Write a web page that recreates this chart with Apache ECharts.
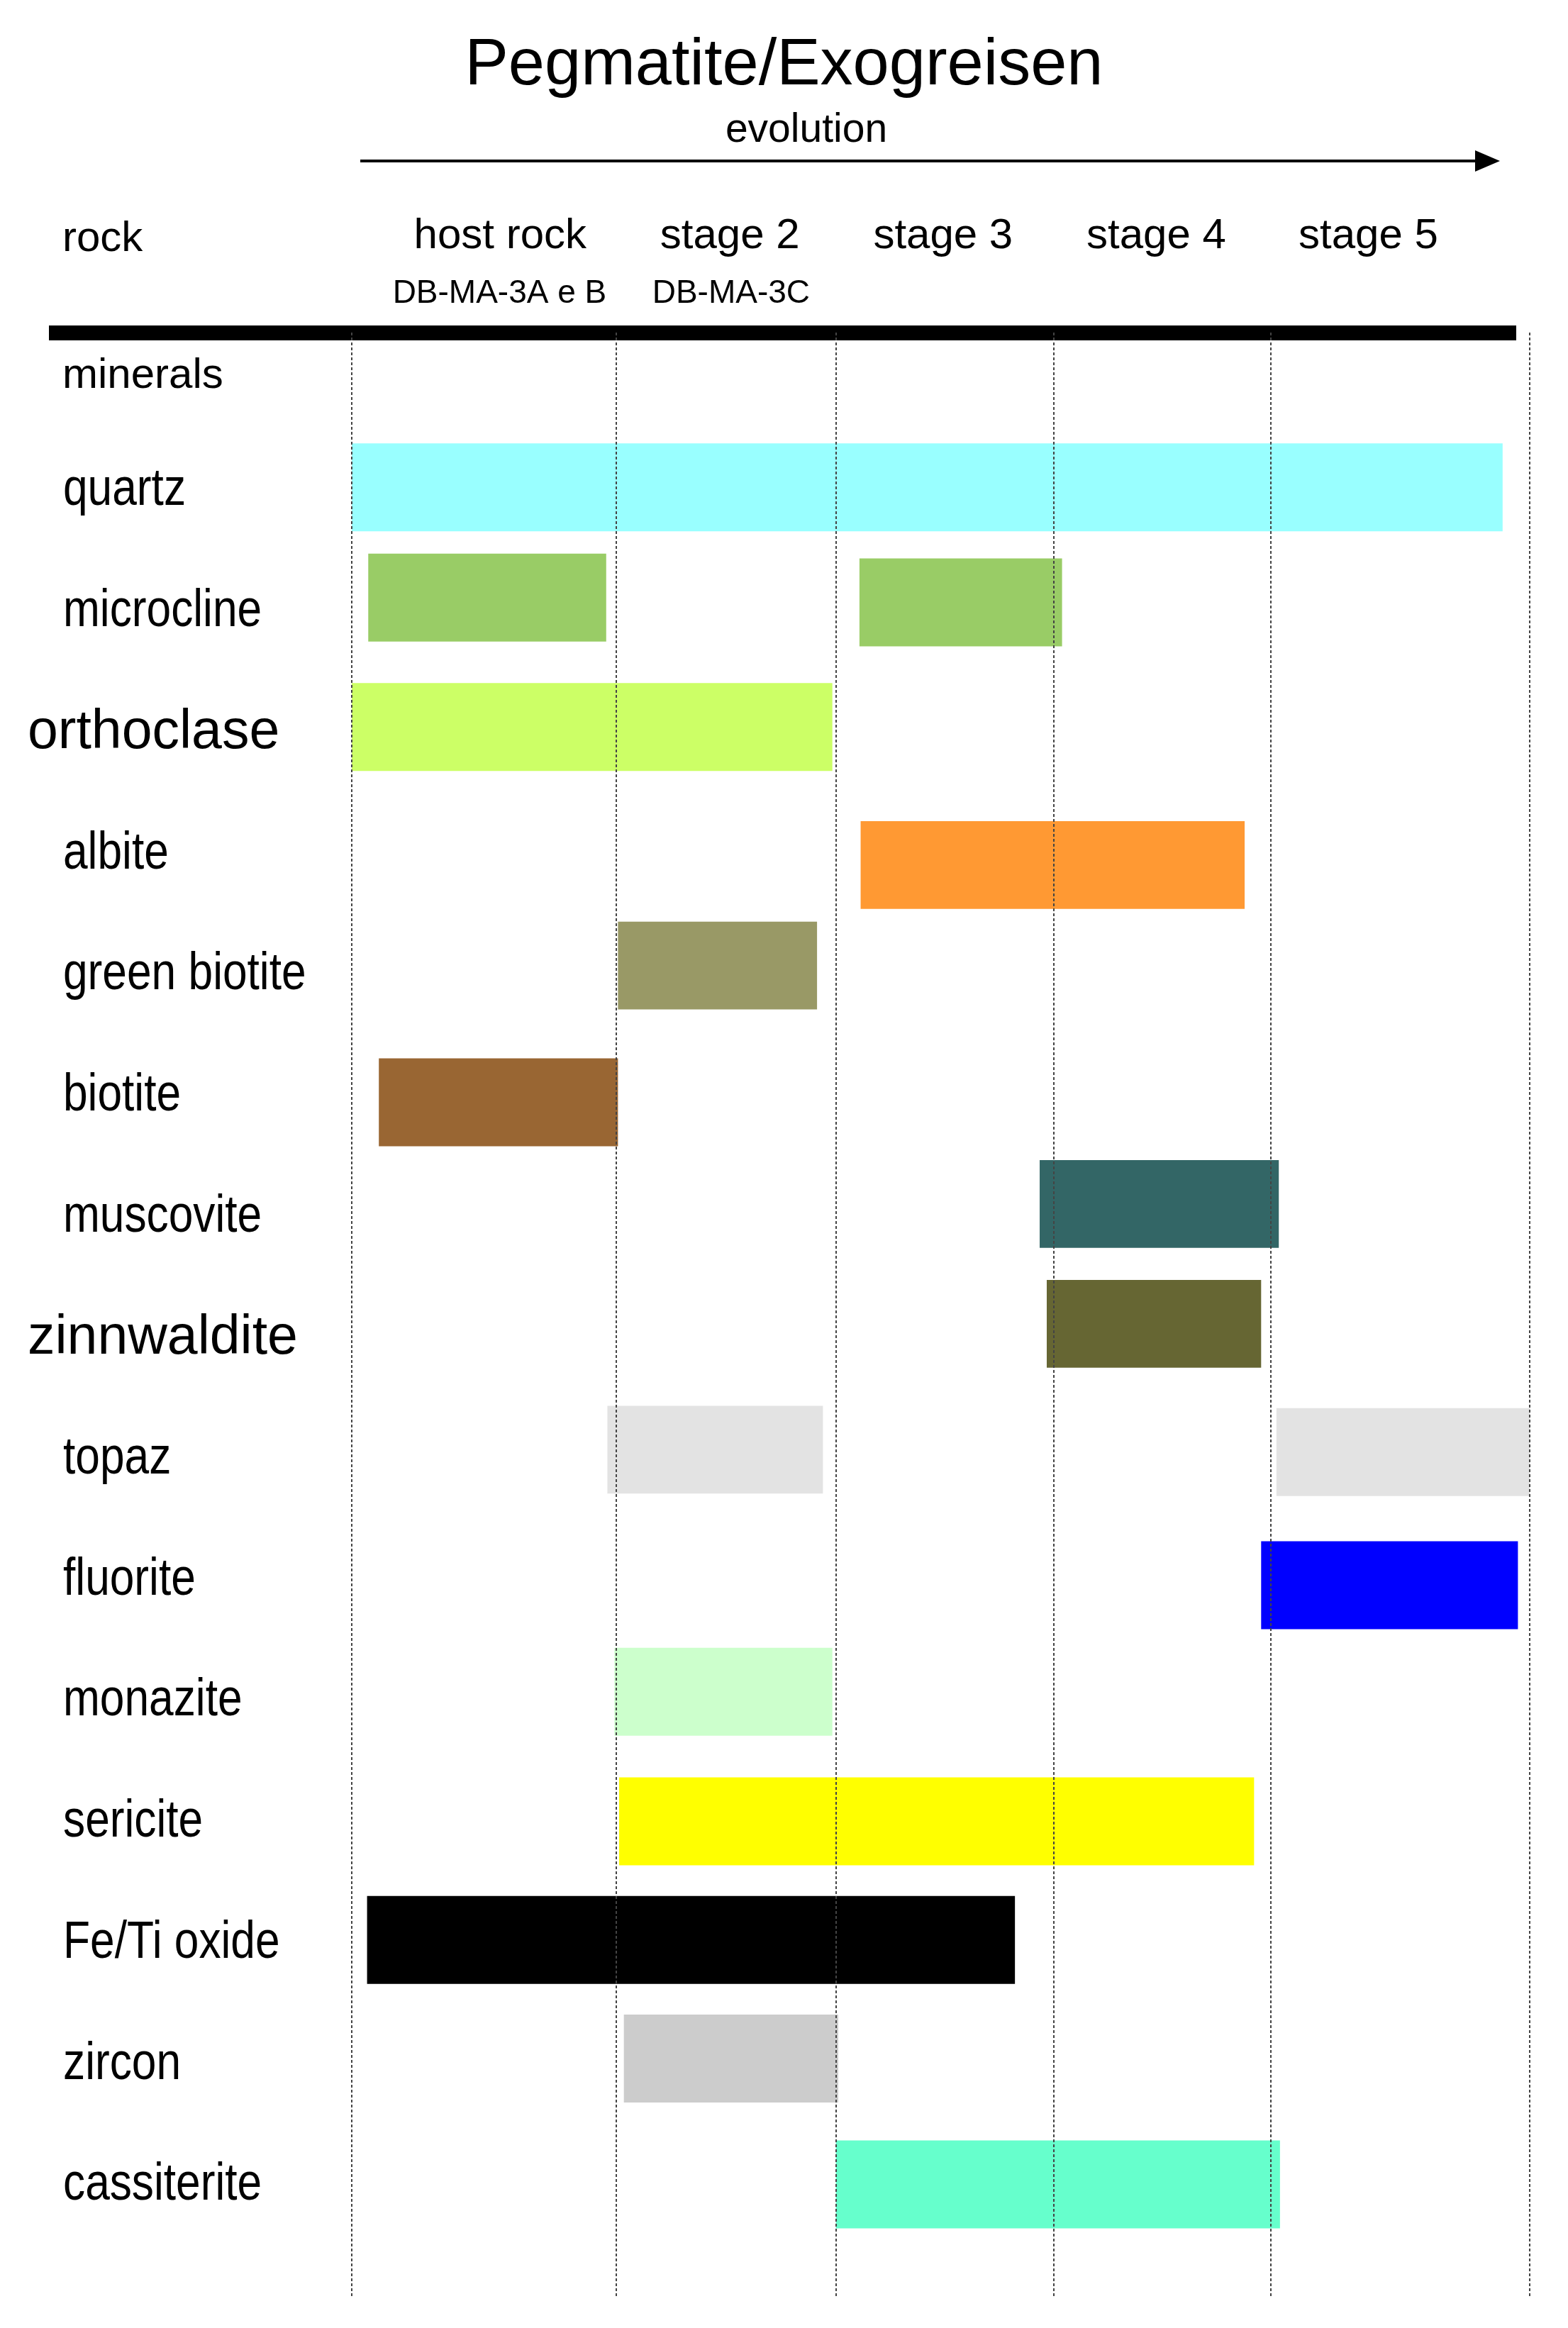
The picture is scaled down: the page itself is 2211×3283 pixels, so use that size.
<!DOCTYPE html>
<html>
<head>
<meta charset="utf-8">
<title>Pegmatite/Exogreisen</title>
<script src="https://cdn.jsdelivr.net/npm/echarts@6/dist/echarts.min.js"></script>
<style>
  html, body { margin: 0; padding: 0; background: #fff; }
  #chart { width: 2211px; height: 3283px; }
</style>
</head>
<body>
<div id="chart"></div>
<script>
// evolution axis: 0 = start of host rock, 100 = end of stage 5
const stageNames = ['host rock', 'stage 2', 'stage 3', 'stage 4', 'stage 5']
const stageLabelAt = [12.6, 32.1, 50.2, 68.3, 86.3]
const sampleNames = ['DB-MA-3A e B', 'DB-MA-3C']
const sampleLabelAt = [12.55, 32.2]
const stageEdges = [0, 22.46, 41.12, 59.6, 78.0, 100]

const rowLabels = ['minerals', 'quartz', 'microcline', 'orthoclase', 'albite', 'green biotite', 'biotite',
  'muscovite', 'zinnwaldite', 'topaz', 'fluorite', 'monazite', 'sericite', 'Fe/Ti oxide', 'zircon', 'cassiterite']

// one entry per bar
const barMineral = ['quartz', 'microcline', 'microcline', 'orthoclase', 'albite', 'green biotite', 'biotite',
  'muscovite', 'zinnwaldite', 'topaz', 'topaz', 'fluorite', 'monazite', 'sericite', 'Fe/Ti oxide', 'zircon', 'cassiterite']
const barStart = [0, 1.4, 43.1, 0, 43.2, 22.6, 2.3, 58.4, 59.0, 21.7, 78.5, 77.2, 22.3, 22.7, 1.3, 23.1, 41.1]
const barEnd = [97.7, 21.6, 60.3, 40.8, 75.8, 39.5, 22.6, 78.7, 77.2, 40.0, 100, 99.0, 40.8, 76.6, 56.3, 41.3, 78.8]
const barRow = [0.98, 1.89, 1.93, 2.96, 4.10, 4.93, 6.06, 6.90, 7.89, 8.93, 8.95, 10.05, 10.93, 12.00, 12.98, 13.96, 15.00]

const mineralColor = {
  quartz: '#99ffff', microcline: '#99cc66', orthoclase: '#ccff66', albite: '#ff9933',
  'green biotite': '#999966', biotite: '#996633', muscovite: '#336666', zinnwaldite: '#666633',
  topaz: '#e3e3e3', fluorite: '#0000ff', monazite: '#ccffcc', sericite: '#ffff00',
  'Fe/Ti oxide': '#000000', zircon: '#cccccc', cassiterite: '#66ffcc'
}
// these two row labels use a wider face than the rest
const wideLabels = ['orthoclase', 'zinnwaldite']

const BAR_THICKNESS = 0.726
const SANS = '"Liberation Sans", Arial, sans-serif'

// row label looks: inset = distance left of the plot edge, narrow ones are squeezed horizontally
const labelLook = {
  head: { font: '60px ' + SANS, inset: 408, scaleX: 1, dy: 10 },
  wide: { font: '77px ' + SANS, inset: 457, scaleX: 1, dy: 2 },
  narrow: { font: '75px ' + SANS, inset: 407, scaleX: 0.83, dy: 1 },
}

const chart = echarts.init(document.getElementById('chart'))

function renderBar(params, api) {
  const row = api.value(2)
  const a = api.coord([api.value(0), row])
  const b = api.coord([api.value(1), row])
  const h = api.size([0, BAR_THICKNESS])[1]
  return {
    type: 'rect',
    shape: { x: a[0], y: a[1] - h / 2, width: b[0] - a[0], height: h },
    style: { fill: api.visual('color') },
  }
}

function renderRowLabel(params, api) {
  const row = api.value(1)
  const name = rowLabels[row]
  const kind = name === 'minerals' ? 'head' : wideLabels.includes(name) ? 'wide' : 'narrow'
  const look = labelLook[kind]
  const p = api.coord([0, row])
  return {
    type: 'text',
    x: p[0] - look.inset,
    y: p[1] + look.dy,
    scaleX: look.scaleX,
    style: { text: name, font: look.font, fill: '#000', align: 'left', verticalAlign: 'middle' },
  }
}

const bars = barMineral.map((m, i) => ({
  name: m,
  value: [barStart[i], barEnd[i], barRow[i]],
  itemStyle: { color: mineralColor[m] },
}))

const labelAt = (positions, names) => (v) => {
  const i = positions.findIndex((p) => Math.abs(p - v) < 1e-6)
  return i < 0 ? '' : names[i]
}

chart.setOption({
  animation: false,
  backgroundColor: '#fff',
  title: [
    {
      text: 'Pegmatite/Exogreisen',
      left: 'center',
      top: 48,
      padding: 0,
      textStyle: { fontFamily: SANS, fontSize: 92, fontWeight: 'normal', color: '#000' },
    },
    {
      text: 'evolution',
      left: 1137,
      textAlign: 'center',
      top: 156,
      padding: 0,
      textStyle: { fontFamily: SANS, fontSize: 57, fontWeight: 'normal', color: '#000' },
    },
    {
      text: 'rock',
      left: 88,
      top: 307,
      padding: 0,
      textStyle: { fontFamily: SANS, fontSize: 60, fontWeight: 'normal', color: '#000' },
    },
  ],
  graphic: [
    // evolution arrow
    { type: 'line', shape: { x1: 508, y1: 227, x2: 2088, y2: 227 }, style: { stroke: '#000', lineWidth: 4 } },
    { type: 'polygon', shape: { points: [[2080, 212], [2115, 227], [2080, 242]] }, style: { fill: '#000' } },
    // heavy rule under the header
    { type: 'rect', shape: { x: 69, y: 459, width: 2069, height: 21 }, style: { fill: '#000' } },
  ],
  grid: { left: 496, right: 54, top: 469, bottom: 42, containLabel: false },
  xAxis: [
    {
      type: 'value',
      position: 'top',
      min: 0,
      max: 100,
      axisLine: { show: false },
      axisTick: { show: false },
      splitLine: { show: false },
      axisLabel: {
        customValues: stageLabelAt,
        formatter: labelAt(stageLabelAt, stageNames),
        margin: 106,
        fontFamily: SANS,
        fontSize: 60,
        color: '#000',
      },
    },
    {
      type: 'value',
      position: 'top',
      min: 0,
      max: 100,
      axisLine: { show: false },
      axisTick: { show: false },
      splitLine: { show: false },
      axisLabel: {
        customValues: sampleLabelAt,
        formatter: labelAt(sampleLabelAt, sampleNames),
        margin: 32,
        fontFamily: SANS,
        fontSize: 46,
        color: '#000',
      },
    },
  ],
  yAxis: {
    type: 'value',
    inverse: true,
    min: -0.299,
    max: 15.94,
    axisLine: { show: false },
    axisTick: { show: false },
    splitLine: { show: false },
    axisLabel: { show: false },
  },
  series: [
    {
      type: 'custom',
      name: 'minerals',
      renderItem: renderBar,
      encode: { x: [0, 1], y: 2 },
      data: bars,
      z: 2,
      markLine: {
        silent: true,
        symbol: 'none',
        label: { show: false },
        lineStyle: { color: '#444', width: 2, type: [4, 3] },
        data: stageEdges.map((x) => ({ xAxis: x })),
        z: 5,
      },
    },
    {
      type: 'custom',
      name: 'row labels',
      renderItem: renderRowLabel,
      encode: { x: 0, y: 1 },
      data: rowLabels.map((_, i) => [0, i]),
      clip: false,
      silent: true,
      z: 3,
    },
  ],
})
</script>
</body>
</html>
